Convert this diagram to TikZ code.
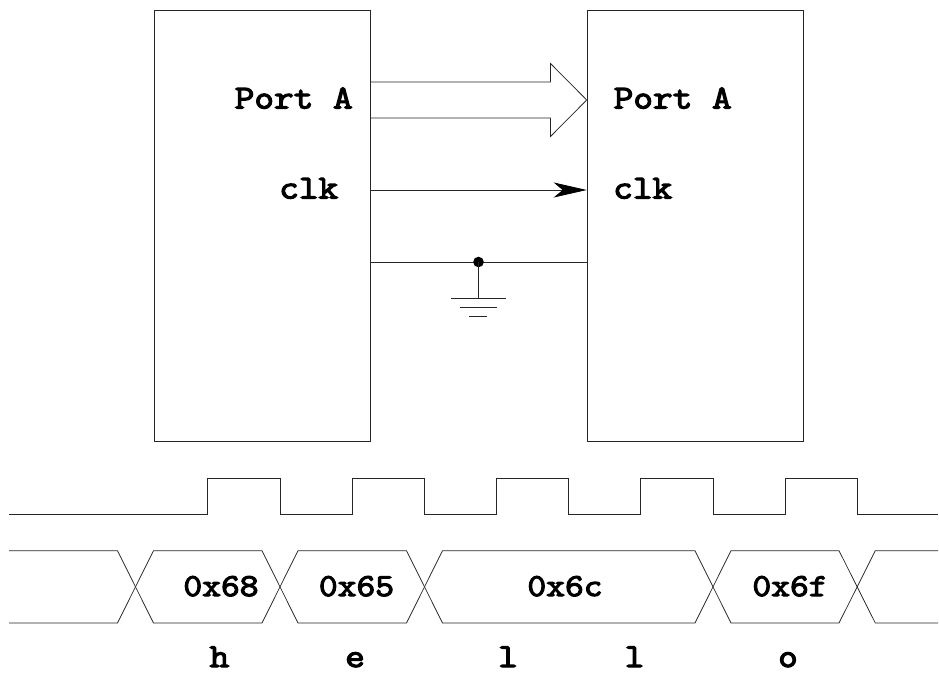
\documentclass[tikz,border=0pt]{standalone}
\usepackage{fontspec}
\newfontfamily\slabfont[FakeStretch=1.14,FakeBold=3.6]{Latin Modern Mono}
\usetikzlibrary{arrows.meta}
\tikzset{
  wire/.style={draw=black!85,line width=0.75pt},
  device/.style={wire,rectangle,minimum width=216pt,minimum height=431pt,inner sep=0pt,anchor=north west},
  portlabel/.style={anchor=base west,inner sep=0pt,font=\fontsize{33.5}{34}\selectfont\slabfont},
  hexlabel/.style={anchor=base,inner sep=0pt,font=\fontsize{32}{32}\selectfont\slabfont},
  charlabel/.style={anchor=base,inner sep=0pt,font=\fontsize{33.5}{34}\selectfont\slabfont},
}
\begin{document}
\begin{tikzpicture}[x=1pt,y=-1pt]
\useasboundingbox (0,0) rectangle (939,675);
\node[device] (left) at (153.7,10) {};
\node[device] (right) at (586.7,10) {};
\node[portlabel] (pa1) at (234.5,108.5) {Port A};
\node[portlabel] (clk1) at (279,198.5) {clk};
\node[portlabel] (pa2) at (613.5,108.5) {Port A};
\node[portlabel] (clk2) at (613,198.5) {clk};
% wide bus arrow
\coordinate (busT) at (370,82);
\coordinate (busB) at (370,118);
\coordinate (tip) at (586.7,100);
\draw[wire,line join=miter] (busT) -- (550.5,82) -- (550.5,63.5) -- (tip) -- (550.5,136.5) -- (550.5,118) -- (busB);
% clock wire
\coordinate (clkS) at (370,190);
\coordinate (clkE) at (586.7,190);
\draw[wire,-{Stealth[length=33pt,width=15pt,inset=9pt,color=black]}] (clkS) -- (clkE);
% ground wire
\coordinate (gndS) at (370,262);
\coordinate (gndE) at (586.7,262);
\coordinate (gndJ) at (478.5,262);
\coordinate (gndB) at (478.5,298);
\draw[wire] (gndS) -- (gndE);
\fill[black] (gndJ) circle (5.3pt);
\draw[wire] (gndJ) -- (gndB);
\draw[wire] (451,298) -- (506,298);
\draw[wire] (460,307) -- (497,307);
\draw[wire] (469,316) -- (487,316);
% clock waveform
\draw[wire] (9,514.7) -- (207.5,514.7) -- (207.5,478.5) -- (280,478.5) -- (280,514.7)
  -- (352.3,514.7) -- (352.3,478.5) -- (424.7,478.5) -- (424.7,514.7)
  -- (496.5,514.7) -- (496.5,478.5) -- (568.7,478.5) -- (568.7,514.7)
  -- (640.8,514.7) -- (640.8,478.5) -- (713,478.5) -- (713,514.7)
  -- (785,514.7) -- (785,478.5) -- (857.3,478.5) -- (857.3,514.7) -- (938,514.7);
% data bus waveform
\draw[wire] (9,550.7) -- (117.5,550.7) -- (153.5,623) -- (262,623) -- (298,550.7)
  -- (406.5,550.7) -- (442.5,623) -- (695,623) -- (731,550.7) -- (839,550.7) -- (875.3,623) -- (938,623);
\draw[wire] (9,623) -- (117.5,623) -- (153.5,550.7) -- (262,550.7) -- (298,623)
  -- (406.5,623) -- (442.5,550.7) -- (695,550.7) -- (731,623) -- (839,623) -- (875.3,550.7) -- (938,550.7);
\node[hexlabel] (h1) at (221,596) {0x68};
\node[hexlabel] (h2) at (356.5,596) {0x65};
\node[hexlabel] (h3) at (565,596) {0x6c};
\node[hexlabel] (h4) at (790,596) {0x6f};
\node[charlabel] (c1) at (219.5,667) {h};
\node[charlabel] (c2) at (355,667) {e};
\node[charlabel] (c3) at (508,667) {l};
\node[charlabel] (c4) at (634.5,667) {l};
\node[charlabel] (c5) at (788,667) {o};
\end{tikzpicture}
\end{document}
